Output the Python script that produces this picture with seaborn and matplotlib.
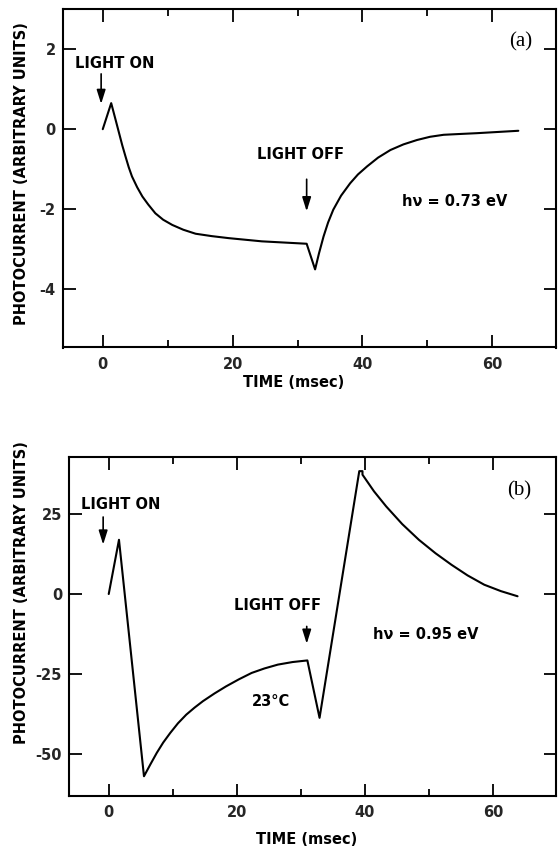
import matplotlib
matplotlib.use("Agg")
import matplotlib.pyplot as plt
import pandas as pd
import seaborn as sns
from matplotlib.ticker import MultipleLocator

# ---------------- data ----------------
time_a = [0.0, 1.3, 2.0, 2.5, 3.0, 3.5, 4.0, 4.5, 5.3, 6.1, 7.0, 8.1, 9.3, 10.7,
          12.4, 14.3, 16.8, 19.4, 24.5, 31.4,
          32.7, 33.3, 34.0, 34.7, 35.5, 36.7, 38.1, 39.3, 40.7, 42.4, 44.3,
          46.3, 48.4, 50.4, 52.5, 55.0, 57.6, 64.0]
current_a = [0.0, 0.65, 0.22, -0.09, -0.40, -0.68, -0.95, -1.18, -1.45, -1.68, -1.88,
             -2.10, -2.26, -2.39, -2.51, -2.61, -2.67, -2.72, -2.80, -2.86,
             -3.50, -3.10, -2.68, -2.33, -2.01, -1.66, -1.35, -1.13, -0.93, -0.71,
             -0.52, -0.38, -0.27, -0.19, -0.14, -0.12, -0.10, -0.04]

time_b = [0.0, 1.6, 5.5, 6.5, 7.5, 8.5, 9.6, 10.8, 12.1, 13.4, 14.7, 16.5, 18.3,
          20.3, 22.3, 24.3, 26.4, 28.7, 31.0,
          32.9, 39.1, 39.6, 39.6, 41.4, 43.3, 45.8, 48.4, 51.0, 53.5, 56.0,
          58.6, 61.2, 63.8]
current_b = [0.0, 16.9, -56.8, -53.1, -49.5, -46.3, -43.3, -40.3, -37.6, -35.4,
             -33.4, -31.0, -28.8, -26.6, -24.6, -23.2, -22.0, -21.2, -20.7,
             -38.6, 38.3, 38.3, 37.2, 32.0, 27.3, 21.8, 16.9, 12.7, 9.1, 5.8,
             2.9, 0.9, -0.7]

x_ticks = [0, 20, 40, 60]
y_ticks_a = [-4, -2, 0, 2]
y_ticks_b = [-50, -25, 0, 25]

x_label = "TIME (msec)"
y_label = "PHOTOCURRENT (ARBITRARY UNITS)"

# ---------------- style ----------------
sns.set_theme(style="ticks")
plt.rcParams["font.family"] = ["DejaVu Sans"]
plt.rcParams["axes.unicode_minus"] = False

W, H = 558, 846
fig = plt.figure(figsize=(W / 100, H / 100), dpi=100)
fig.patch.set_facecolor("white")

ax_a = fig.add_axes([62.5 / W, 1 - 347.5 / H, (556 - 62.5) / W, (347.5 - 9) / H])
ax_b = fig.add_axes([69 / W, 1 - 795.5 / H, (556 - 69) / W, (795.5 - 456.7) / H])

df_a = pd.DataFrame({"time": time_a, "current": current_a})
df_b = pd.DataFrame({"time": time_b, "current": current_b})

sns.lineplot(data=df_a, x="time", y="current", ax=ax_a, sort=False,
             estimator=None, color="black", lw=1.5)
sns.lineplot(data=df_b, x="time", y="current", ax=ax_b, sort=False,
             estimator=None, color="black", lw=1.5)

TFS = 10.5
txt_kw = dict(fontsize=TFS, fontweight="bold", color="black")


def style(ax, ylim, yticks):
    ax.set_facecolor("white")
    ax.set_xlim(-6.2, 69.8)
    ax.set_ylim(*ylim)
    ax.set_xticks(x_ticks)
    ax.set_xticklabels([str(v) for v in x_ticks])
    ax.xaxis.set_minor_locator(MultipleLocator(10))
    ax.set_yticks(yticks)
    ax.set_yticklabels([str(v) for v in yticks])
    ax.tick_params(which="both", direction="in", top=True, right=True,
                   width=1.3, color="black")
    ax.tick_params(which="major", length=9, labelsize=TFS)
    ax.tick_params(axis="x", which="major", pad=7)
    ax.tick_params(axis="y", which="major", pad=5)
    ax.tick_params(which="minor", length=5)
    for lab in ax.get_xticklabels() + ax.get_yticklabels():
        lab.set_fontweight("bold")
    for sp in ax.spines.values():
        sp.set_linewidth(1.5)
        sp.set_color("black")
        sp.set_visible(True)


style(ax_a, (-5.45, 3.0), y_ticks_a)
style(ax_b, (-62.8, 42.8), y_ticks_b)

# axis labels
ax_a.set_xlabel(x_label, va="center", **txt_kw)
ax_a.xaxis.set_label_coords(0.469, -0.103)
ax_b.set_xlabel(x_label, va="center", **txt_kw)
ax_b.xaxis.set_label_coords(0.488, -0.131)

ax_a.set_ylabel(y_label, va="center", **txt_kw)
ax_a.yaxis.set_label_coords(-0.0827, 0.5126)
ax_b.set_ylabel(y_label, va="center", **txt_kw)
ax_b.yaxis.set_label_coords(-0.0971, 0.598)

arrow = dict(arrowstyle="-|>,head_length=0.7,head_width=0.22", color="black",
             lw=1.2, shrinkA=0, shrinkB=0)

serif = ["Liberation Serif", "DejaVu Serif"]

# panel (a) annotations
ax_a.text(-4.2, 1.65, "LIGHT ON", ha="left", va="center", **txt_kw)
ax_a.annotate("", xy=(-0.25, 0.63), xytext=(-0.25, 1.38), arrowprops=arrow)
ax_a.text(23.75, -0.62, "LIGHT OFF", ha="left", va="center", **txt_kw)
ax_a.annotate("", xy=(31.4, -2.05), xytext=(31.4, -1.25), arrowprops=arrow)
ax_a.text(46.1, -1.81, "hν = 0.73 eV", ha="left", va="center", **txt_kw)
ax_a.text(64.3, 2.18, "(a)", ha="center", va="center", fontsize=15,
          family=serif, color="black")

# panel (b) annotations
ax_b.text(-4.3, 27.8, "LIGHT ON", ha="left", va="center", **txt_kw)
ax_b.annotate("", xy=(-0.87, 15.4), xytext=(-0.87, 24.0), arrowprops=arrow)
ax_b.text(19.5, -3.5, "LIGHT OFF", ha="left", va="center", **txt_kw)
ax_b.annotate("", xy=(30.9, -15.5), xytext=(30.9, -10.1), arrowprops=arrow)
ax_b.text(41.2, -12.7, "hν = 0.95 eV", ha="left", va="center", **txt_kw)
ax_b.text(22.3, -33.4, "23°C", ha="left", va="center", **txt_kw)
ax_b.text(64.1, 32.0, "(b)", ha="center", va="center", fontsize=15,
          family=serif, color="black")

fig.savefig("out.png", dpi=100, facecolor="white")
